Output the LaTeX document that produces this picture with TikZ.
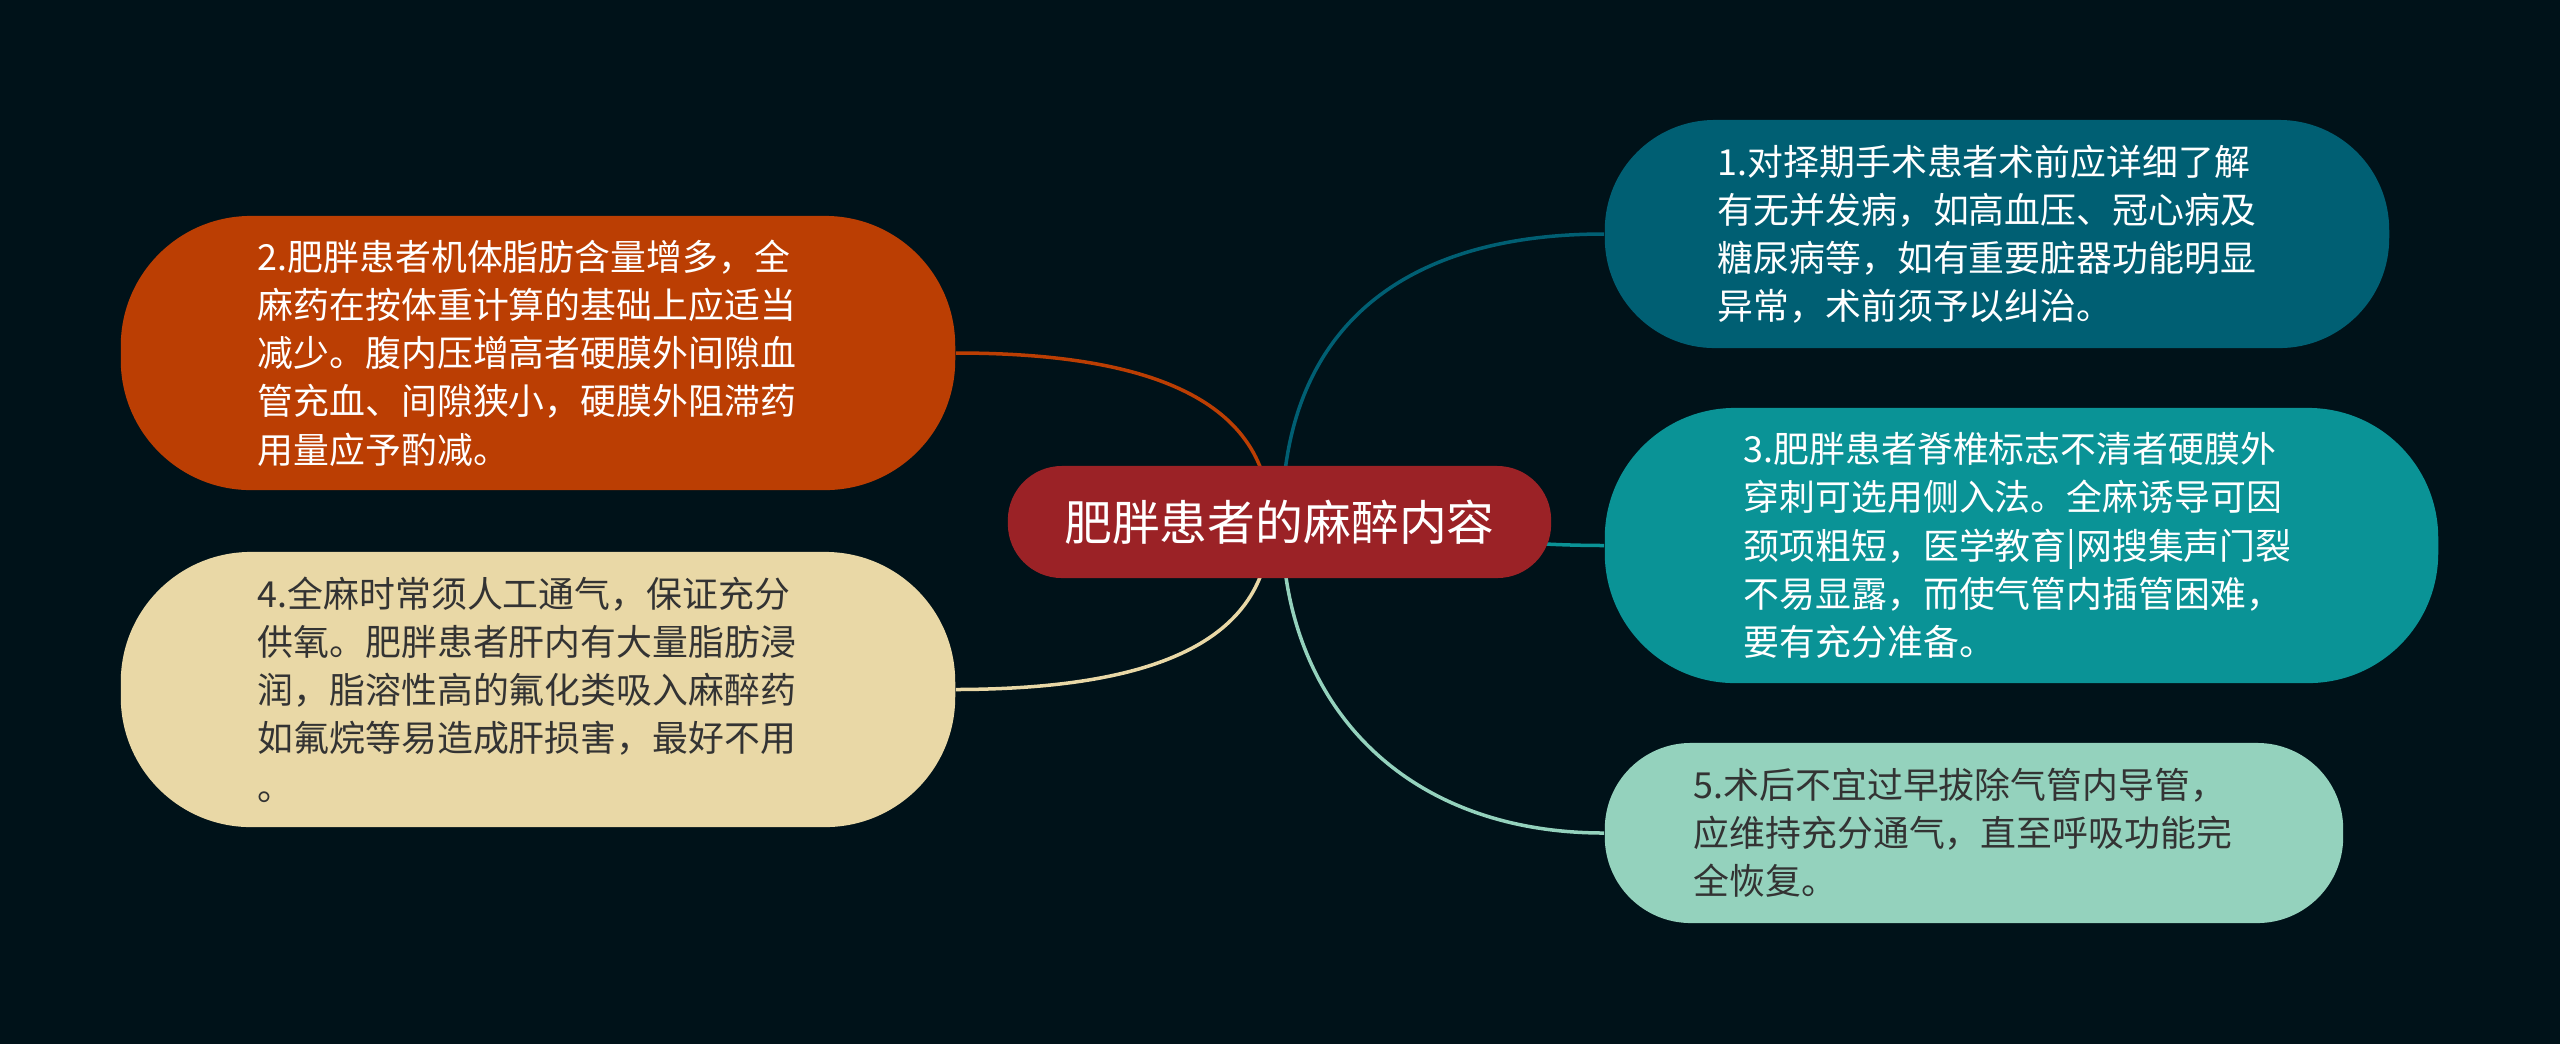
\documentclass[tikz,border=0pt]{standalone}
\usepackage{fontspec}
\setmainfont{Noto Sans CJK SC}
\usetikzlibrary{backgrounds}

\definecolor{bgcol}{HTML}{001219}
\definecolor{rootcol}{HTML}{9B2226}
\definecolor{rustcol}{HTML}{BB3E03}
\definecolor{sandcol}{HTML}{E9D8A6}
\definecolor{deepcol}{HTML}{005F73}
\definecolor{tealcol}{HTML}{0A9396}
\definecolor{mintcol}{HTML}{94D2BD}
\definecolor{inkcol}{HTML}{333333}

\begin{document}
\begin{tikzpicture}[x=0.01cm,y=-0.01cm,
	leaf/.style={rectangle,align=left,inner ysep=0pt,
		font=\fontsize{10.2pt}{13.7pt}\selectfont},
	link/.style={line width=0.035cm}]

	% the root in the middle
	\node[fill=rootcol,text=white,minimum width=5.43cm,minimum height=1.12cm,
		rounded corners=0.54cm,font=\fontsize{13.6pt}{16pt}\selectfont]
		(root) at (1279.5,522) {肥胖患者的麻醉内容};

	% left side leaves
	\node[leaf,fill=rustcol,text=white,minimum height=2.74cm,rounded corners=1.3cm,
		inner xsep=1.37cm,text width=5.6cm] (n2) at (538,353) {
		2.肥胖患者机体脂肪含量增多，全\\
		麻药在按体重计算的基础上应适当\\
		减少。腹内压增高者硬膜外间隙血\\
		管充血、间隙狭小，硬膜外阻滞药\\
		用量应予酌减。};
	\node[leaf,fill=sandcol,text=inkcol,minimum height=2.75cm,rounded corners=1.3cm,
		inner xsep=1.37cm,text width=5.6cm] (n4) at (538,689.5) {
		4.全麻时常须人工通气，保证充分\\
		供氧。肥胖患者肝内有大量脂肪浸\\
		润，脂溶性高的氟化类吸入麻醉药\\
		如氟烷等易造成肝损害，最好不用\\
		。};

	% right side leaves
	\node[leaf,fill=deepcol,text=white,minimum height=2.28cm,rounded corners=1.1cm,
		inner xsep=1.13cm,text width=5.58cm] (n1) at (1997,234) {
		1.对择期手术患者术前应详细了解\\
		有无并发病，如高血压、冠心病及\\
		糖尿病等，如有重要脏器功能明显\\
		异常，术前须予以纠治。};
	\node[leaf,fill=tealcol,text=white,minimum height=2.75cm,rounded corners=1.3cm,
		inner xsep=1.39cm,text width=5.55cm] (n3) at (2021.5,545.5) {
		3.肥胖患者脊椎标志不清者硬膜外\\
		穿刺可选用侧入法。全麻诱导可因\\
		颈项粗短，医学教育|网搜集声门裂\\
		不易显露，而使气管内插管困难，\\
		要有充分准备。};
	\node[leaf,fill=mintcol,text=inkcol,minimum height=1.8cm,rounded corners=0.86cm,
		inner xsep=0.89cm,text width=5.6cm] (n5) at (1974,833) {
		5.术后不宜过早拔除气管内导管，\\
		应维持充分通气，直至呼吸功能完\\
		全恢复。};

	% define the coordinates where the branches leave the root
	\coordinate (L) at (1270,522);
	\coordinate (R) at (1282,522);

	\begin{scope}[on background layer]
		% dark page
		\fill[bgcol] (0,0) rectangle (2560,1044);
		% branches to the left
		\draw[link,rustcol] (L) .. controls (1270,400) and (1150,353) .. (n2.east);
		\draw[link,sandcol] (L) .. controls (1270,644) and (1150,689) .. (n4.east);
		% branches to the right
		\draw[link,deepcol] (R) .. controls (1282,330) and (1400,234) .. (n1.west);
		\draw[link,tealcol] (R) .. controls (1450,522) and (1450,545) .. (n3.west);
		\draw[link,mintcol] (R) .. controls (1282,700) and (1400,833) .. (n5.west);
	\end{scope}

\end{tikzpicture}
\end{document}
